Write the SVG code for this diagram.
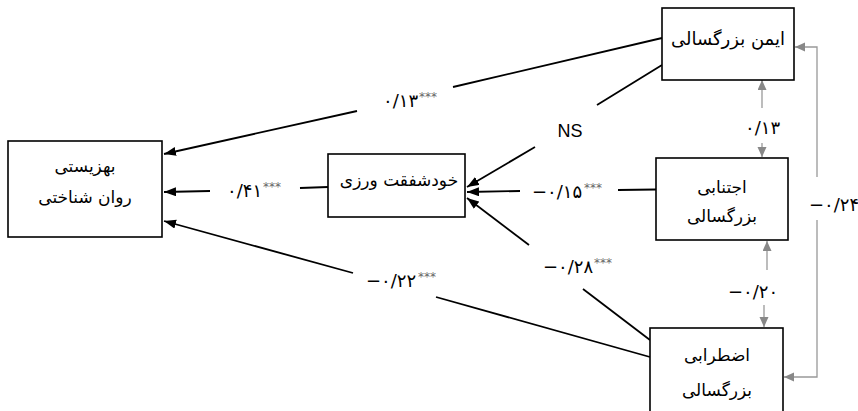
<svg xmlns="http://www.w3.org/2000/svg" width="858" height="411" viewBox="0 0 858 411">
<style>
.box{fill:#fff;stroke:#000;stroke-width:1.6}
.t{font-family:"DejaVu Sans",sans-serif;font-size:17px;fill:#000;text-anchor:middle}
.n{font-family:"DejaVu Sans",sans-serif;font-size:18px;fill:#000}
.s{font-family:"DejaVu Sans",sans-serif;font-size:12px;fill:#666}
.ln{stroke:#000;stroke-width:1.8;fill:none}
.ar{stroke:#000;stroke-width:1.8;fill:none;marker-end:url(#ab)}
.ga{stroke:#999;stroke-width:1.3;fill:none;marker-end:url(#ag)}
</style>
<defs>
<marker id="ab" markerUnits="userSpaceOnUse" markerWidth="13" markerHeight="10" refX="12" refY="4.5" orient="auto">
<path d="M0,0 L12,4.5 L0,9 z" fill="#000"/>
</marker>
<marker id="ag" markerUnits="userSpaceOnUse" markerWidth="11" markerHeight="10" refX="10" refY="4.5" orient="auto">
<path d="M0,0 L10,4.5 L0,9 z" fill="#888"/>
</marker>
</defs>
<rect width="858" height="411" fill="#fff"/>

<g id="connectors">
<line class="ln" x1="662" y1="38" x2="453" y2="87"/>
<line class="ar" x1="357" y1="111" x2="164" y2="154"/>
<line class="ln" x1="662" y1="65" x2="597" y2="105"/>
<line class="ar" x1="535" y1="147" x2="467" y2="187"/>
<line class="ln" x1="656" y1="189.5" x2="618" y2="190"/>
<line class="ar" x1="520" y1="191" x2="467" y2="192"/>
<line class="ln" x1="650" y1="340" x2="583" y2="289"/>
<line class="ar" x1="529" y1="245" x2="467" y2="198"/>
<line class="ln" x1="650" y1="357" x2="436" y2="297"/>
<line class="ar" x1="353" y1="273" x2="164" y2="221"/>
<line class="ln" x1="328" y1="187" x2="300" y2="188"/>
<line class="ar" x1="210" y1="191" x2="164" y2="192"/>
<line class="ga" x1="762" y1="108" x2="762" y2="80"/>
<line class="ga" x1="762" y1="143" x2="762" y2="157"/>
<line class="ga" x1="767" y1="270" x2="767" y2="241"/>
<line class="ga" x1="764" y1="305" x2="764" y2="327"/>
<polyline class="ga" points="817,177 817,47 795,47"/>
<polyline class="ga" points="817,220 817,377 784,377"/>
</g>

<g id="labels">
<text class="n" x="383" y="107">۰/۱۳</text><text class="s" x="419" y="101">***</text>
<text x="570" y="137" style="font-family:'Liberation Sans',sans-serif;font-size:18px;text-anchor:middle">NS</text>
<text class="n" x="532" y="198">−۰/۱۵</text><text class="s" x="584" y="192">***</text>
<text class="n" x="543" y="273">−۰/۲۸</text><text class="s" x="594" y="267">***</text>
<text class="n" x="366" y="287">−۰/۲۲</text><text class="s" x="418" y="281">***</text>
<text class="n" x="227" y="197">۰/۴۱</text><text class="s" x="263" y="191">***</text>
<text class="n" x="745" y="134">۰/۱۳</text>
<text class="n" x="728" y="298">−۰/۲۰</text>
<text class="n" x="809" y="211">−۰/۲۴</text>
</g>

<g id="node-wellbeing">
<rect class="box" x="8" y="141" width="154" height="96"/>
<text class="t" x="85" y="172">بهزیستی</text>
<text class="t" x="85" y="203">روان شناختی</text>
</g>
<g id="node-selfcompassion">
<rect class="box" x="328" y="154" width="137" height="63"/>
<text class="t" x="399" y="186">خودشفقت ورزی</text>
</g>
<g id="node-secure">
<rect class="box" x="662" y="8" width="132" height="72"/>
<text class="t" x="728" y="45" style="font-size:18px">ایمن بزرگسالی</text>
</g>
<g id="node-avoidant">
<rect class="box" x="656" y="158" width="132" height="82"/>
<text class="t" x="722" y="193">اجتنابی</text>
<text class="t" x="722" y="222">بزرگسالی</text>
</g>
<g id="node-anxious">
<rect class="box" x="650" y="328" width="133" height="95"/>
<text class="t" x="717" y="361">اضطرابی</text>
<text class="t" x="717" y="396">بزرگسالی</text>
</g>
</svg>
